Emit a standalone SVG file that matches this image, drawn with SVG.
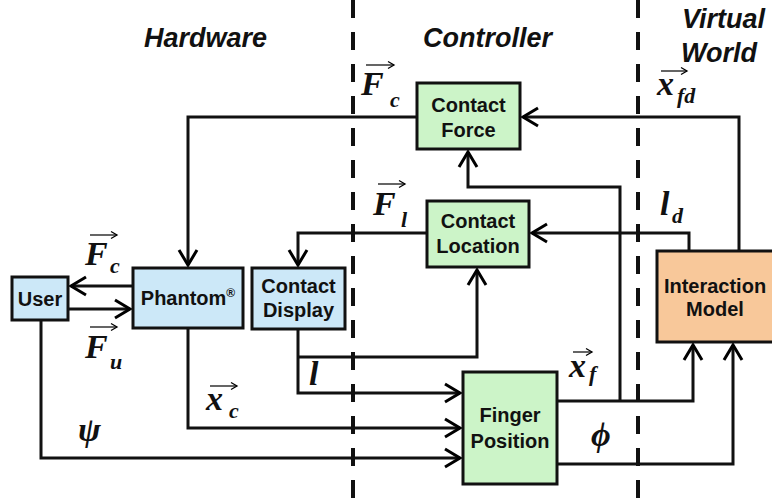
<svg xmlns="http://www.w3.org/2000/svg" width="772" height="500" viewBox="0 0 772 500">
<defs>
<marker id="arr" markerUnits="userSpaceOnUse" markerWidth="30" markerHeight="30" viewBox="-20 -15 30 30" refX="0" refY="0" orient="auto" overflow="visible">
<path d="M-15,-9 L0,0 L-15,9" fill="none" stroke="#000" stroke-width="3" stroke-linejoin="miter"/>
</marker>
<marker id="varr" markerUnits="userSpaceOnUse" markerWidth="12" markerHeight="12" viewBox="-8 -6 12 12" refX="0" refY="0" orient="auto" overflow="visible">
<path d="M-6,-3.5 L0,0 L-6,3.5" fill="none" stroke="#000" stroke-width="1.3"/>
</marker>
</defs>
<style>
.sec{font-family:"Liberation Sans",Arial,sans-serif;font-weight:bold;font-style:italic;font-size:27px;fill:#111}
.box{stroke:#111;stroke-width:3}
.g{fill:#ccf4c8}
.b{fill:#cce8f8}
.o{fill:#f8c89a}
.lbl{font-family:"Liberation Sans",Arial,sans-serif;font-weight:bold;font-size:20px;fill:#111;text-anchor:middle}
.m{font-family:"Liberation Serif","Times New Roman",serif;font-weight:bold;font-style:italic;font-size:34px;fill:#111}
.s{font-family:"Liberation Serif","Times New Roman",serif;font-weight:bold;font-style:italic;font-size:22px;fill:#111}
.gk{font-family:"Liberation Serif","Times New Roman",serif;font-weight:bold;font-style:italic;font-size:34px;fill:#111}
.c{fill:none;stroke:#111;stroke-width:3;marker-end:url(#arr)}
.v{fill:none;stroke:#111;stroke-width:1.3;marker-end:url(#varr)}
.dash{stroke:#111;stroke-width:4;stroke-dasharray:18 14}
</style>
<rect width="772" height="500" fill="#fff"/>
<g id="dividers">
<line class="dash" x1="353" y1="0" x2="353" y2="500"/>
<line class="dash" x1="638" y1="0" x2="638" y2="500"/>
</g>
<g id="titles">
<text class="sec" x="144" y="47">Hardware</text>
<text class="sec" x="423" y="47">Controller</text>
<text class="sec" x="682" y="28">Virtual</text>
<text class="sec" x="681" y="62">World</text>
</g>
<g id="connectors">
<polyline class="c" points="417,117 188,117 188,265"/>
<polyline class="c" points="739,251 739,117 523,117"/>
<polyline class="c" points="689,251 689,233 532,233"/>
<polyline class="c" points="427,233 298,233 298,265"/>
<polyline class="c" points="133,286 71,286"/>
<polyline class="c" points="68,309 130,309"/>
<polyline class="c" points="41,320 41,458 460,458"/>
<polyline class="c" points="188,328 188,428 460,428"/>
<polyline class="c" points="298,329 298,393 460,393"/>
<polyline class="c" points="298,357 477,357 477,270"/>
<polyline class="c" points="557,401 693,401 693,345"/>
<polyline class="c" points="620,401 620,187 468,187 468,152"/>
<polyline class="c" points="557,464 733,464 733,345"/>
</g>
<g id="contact-force">
<rect class="box g" x="417" y="83" width="103" height="66"/>
<text class="lbl" x="468.5" y="112">Contact</text>
<text class="lbl" x="468.5" y="137">Force</text>
</g>
<g id="contact-location">
<rect class="box g" x="427" y="201" width="102" height="66"/>
<text class="lbl" x="478" y="228">Contact</text>
<text class="lbl" x="478" y="253">Location</text>
</g>
<g id="user">
<rect class="box b" x="12" y="277" width="56" height="43"/>
<text class="lbl" x="40" y="306">User</text>
</g>
<g id="phantom">
<rect class="box b" x="133" y="268" width="110" height="60"/>
<text class="lbl" x="188" y="305">Phantom<tspan font-size="12" dy="-8">®</tspan></text>
</g>
<g id="contact-display">
<rect class="box b" x="252" y="268" width="93" height="61"/>
<text class="lbl" x="298.5" y="293">Contact</text>
<text class="lbl" x="298.5" y="317">Display</text>
</g>
<g id="finger-position">
<rect class="box g" x="463" y="372" width="94" height="112"/>
<text class="lbl" x="510" y="422">Finger</text>
<text class="lbl" x="510" y="448">Position</text>
</g>
<g id="interaction-model">
<rect class="box o" x="657" y="251" width="125" height="91"/>
<text class="lbl" x="715" y="293">Interaction</text>
<text class="lbl" x="715" y="316">Model</text>
</g>
<g id="labels">
<text class="m" x="361" y="95">F</text><text class="s" x="390" y="107">c</text>
<line class="v" x1="366" y1="65" x2="394" y2="65"/>
<text class="m" x="373" y="215">F</text><text class="s" x="401" y="227">l</text>
<line class="v" x1="378" y1="184" x2="405" y2="184"/>
<text class="m" x="85" y="265">F</text><text class="s" x="110" y="273">c</text>
<line class="v" x1="90" y1="235" x2="117" y2="235"/>
<text class="m" x="85" y="358">F</text><text class="s" x="110" y="369">u</text>
<line class="v" x1="90" y1="327" x2="117" y2="327"/>
<text class="m" x="206" y="410">x</text><text class="s" x="229" y="418">c</text>
<line class="v" x1="210" y1="386" x2="237" y2="386"/>
<text class="gk" x="78" y="441">ψ</text>
<text class="m" x="309" y="385">l</text>
<text class="m" x="569" y="377">x</text><text class="s" x="589" y="381">f</text>
<line class="v" x1="573" y1="352" x2="592" y2="352"/>
<text class="gk" x="591" y="446">ϕ</text>
<text class="m" x="657" y="95">x</text><text class="s" x="677" y="103">fd</text>
<line class="v" x1="661" y1="71" x2="687" y2="71"/>
<text class="m" x="660" y="215" font-size="29">l</text><text class="s" x="672" y="223">d</text>
</g>
</svg>
